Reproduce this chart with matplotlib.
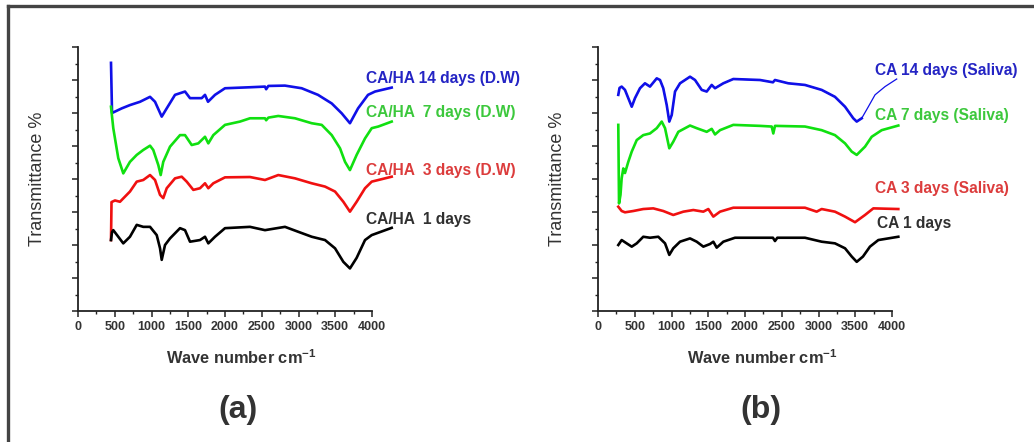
import numpy as np
import matplotlib
matplotlib.use("Agg")
import matplotlib.pyplot as plt
from matplotlib.lines import Line2D
from matplotlib.ticker import MultipleLocator

plt.rcParams['font.family'] = ['Liberation Sans', 'DejaVu Sans']
plt.rcParams['mathtext.fontset'] = 'custom'
plt.rcParams['mathtext.rm'] = 'Liberation Sans'
plt.rcParams['mathtext.bf'] = 'Liberation Sans:bold'

# ---------------- Panel (a): CA/HA in distilled water ----------------
a14_wn = [449, 463, 595, 707, 844, 980, 1048, 1139, 1207, 1320, 1456, 1524, 1683, 1728, 1769, 1864,
          2000, 2340, 2544, 2560, 2590, 2816, 3043, 3265, 3452, 3588, 3700, 3810, 3946, 4041, 4268]
a14_t = [7.52, 6.00, 6.14, 6.24, 6.34, 6.49, 6.34, 5.89, 6.14, 6.55, 6.65, 6.45, 6.45, 6.55, 6.34, 6.55,
         6.75, 6.78, 6.80, 6.72, 6.82, 6.83, 6.75, 6.55, 6.29, 5.99, 5.69, 6.14, 6.55, 6.65, 6.77]

a7_wn = [449, 480, 548, 616, 707, 799, 888, 980, 1024, 1093, 1125, 1160, 1252, 1388, 1456, 1547, 1637,
         1728, 1773, 1841, 2000, 2204, 2340, 2544, 2560, 2590, 2725, 2952, 3180, 3316, 3452, 3565, 3633,
         3700, 3791, 3905, 3996, 4086, 4268]
a7_t = [6.19, 5.54, 4.63, 4.17, 4.52, 4.73, 4.88, 5.01, 4.88, 4.42, 4.12, 4.52, 4.98, 5.33, 5.33, 5.03, 5.08,
        5.28, 5.08, 5.33, 5.64, 5.74, 5.84, 5.84, 5.78, 5.86, 5.91, 5.84, 5.69, 5.64, 5.33, 4.93, 4.52,
        4.27, 4.73, 5.23, 5.54, 5.59, 5.74]

a3_wn = [449, 456, 503, 571, 707, 799, 888, 980, 1048, 1116, 1160, 1207, 1320, 1411, 1479, 1569, 1660,
         1728, 1773, 1841, 2000, 2340, 2544, 2725, 2952, 3180, 3361, 3497, 3610, 3700, 3791, 3905, 3996,
         4268]
a3_t = [2.15, 3.30, 3.35, 3.31, 3.62, 3.92, 3.97, 4.12, 3.97, 3.52, 3.42, 3.72, 4.02, 4.07, 3.92, 3.67, 3.72,
        3.87, 3.72, 3.87, 4.05, 4.06, 3.97, 4.12, 4.02, 3.87, 3.77, 3.62, 3.31, 3.01, 3.31, 3.72, 3.92,
        4.07]

a1_wn = [449, 463, 480, 548, 616, 707, 799, 888, 980, 1071, 1116, 1139, 1184, 1252, 1388, 1456, 1524,
         1660, 1728, 1773, 1864, 2000, 2340, 2544, 2816, 2997, 3180, 3361, 3497, 3610, 3700, 3791, 3905,
         3996, 4268]
a1_t = [2.15, 2.39, 2.45, 2.25, 2.05, 2.25, 2.61, 2.55, 2.55, 2.30, 1.90, 1.55, 2.00, 2.20, 2.51, 2.45, 2.10,
        2.15, 2.25, 2.05, 2.25, 2.51, 2.55, 2.45, 2.55, 2.40, 2.25, 2.15, 1.90, 1.49, 1.29, 1.61, 2.15,
        2.30, 2.52]

a_labels = ["CA/HA 14 days (D.W)", "CA/HA  7 days (D.W)", "CA/HA  3 days (D.W)", "CA/HA  1 days"]
a_label_y = [7.06, 6.00, 4.27, 2.76]
a_label_x = 3918

# ---------------- Panel (b): CA in saliva ----------------
b14_wn = [276, 293, 322, 367, 412, 459, 503, 571, 639, 707, 799, 844, 888, 935, 970, 1003, 1048, 1116,
          1252, 1320, 1411, 1479, 1547, 1592, 1705, 1841, 2204, 2380, 2408, 2589, 2816, 3043, 3224, 3361,
          3473, 3520, 3588, 3678, 3769, 3905, 4064]
b14_t = [6.55, 6.76, 6.80, 6.70, 6.45, 6.19, 6.45, 6.75, 6.90, 6.80, 7.05, 7.00, 6.75, 6.24, 5.74, 5.94, 6.65, 6.90,
         7.10, 7.00, 6.70, 6.65, 6.85, 6.75, 6.90, 7.03, 7.00, 6.93, 7.00, 6.90, 6.85, 6.70, 6.49, 6.19,
         5.84, 5.74, 5.84, 6.19, 6.55, 6.80, 7.03]

b7_wn = [276, 286, 306, 322, 344, 367, 412, 459, 527, 616, 707, 799, 867, 912, 970, 1024, 1093, 1252,
         1343, 1479, 1547, 1592, 1660, 1841, 2204, 2363, 2385, 2408, 2816, 3043, 3224, 3361, 3452, 3520,
         3633, 3724, 3860, 4086]
b7_t = [5.64, 3.26, 3.52, 4.02, 4.32, 4.18, 4.52, 4.83, 5.18, 5.33, 5.38, 5.54, 5.74, 5.54, 4.93, 5.13, 5.43, 5.62,
        5.54, 5.43, 5.52, 5.35, 5.48, 5.64, 5.61, 5.59, 5.38, 5.61, 5.59, 5.48, 5.33, 5.08, 4.83, 4.73,
        4.98, 5.28, 5.48, 5.62]

b3_wn = [276, 322, 367, 480, 616, 752, 888, 1024, 1161, 1297, 1433, 1501, 1569, 1660, 1841, 2816, 2975,
         3043, 3224, 3361, 3497, 3633, 3746, 4086]
b3_t = [3.16, 3.03, 2.99, 3.03, 3.09, 3.11, 3.03, 2.91, 3.01, 3.06, 3.01, 3.09, 2.86, 3.01, 3.13, 3.13, 3.01,
        3.09, 3.01, 2.86, 2.69, 2.91, 3.11, 3.09]

b1_wn = [276, 322, 390, 459, 527, 616, 707, 820, 912, 970, 1024, 1116, 1252, 1343, 1433, 1524, 1569,
         1615, 1705, 1864, 2380, 2408, 2440, 2816, 3043, 3224, 3361, 3452, 3520, 3605, 3700, 3814, 4086]
b1_t = [2.00, 2.15, 2.05, 1.95, 2.05, 2.25, 2.22, 2.25, 2.05, 1.70, 1.90, 2.10, 2.20, 2.10, 1.95, 2.03, 2.10,
        1.92, 2.10, 2.22, 2.22, 2.12, 2.22, 2.22, 2.10, 2.05, 1.90, 1.65, 1.49, 1.65, 1.95, 2.15, 2.25]

b_labels = ["CA 14 days (Saliva)", "CA 7 days (Saliva)", "CA 3 days (Saliva)", "CA 1 days"]
b_label_y = [7.30, 5.91, 3.70, 2.64]
b_label_x = [3769, 3769, 3769, 3796]

line_colors = ["#1010e8", "#10e010", "#f01010", "#000000"]
text_colors = ["#2424c4", "#3cc83c", "#dc3c3c", "#303030"]

x_ticks = [0, 500, 1000, 1500, 2000, 2500, 3000, 3500, 4000]

W, H = 1034, 442
fig = plt.figure(figsize=(W / 100, H / 100), dpi=100)
fig.patch.set_facecolor("white")

def px_axes(x0, x1, ytop, ybot):
    return fig.add_axes([x0 / W, 1 - ybot / H, (x1 - x0) / W, (ybot - ytop) / H])

ax_a = px_axes(78, 372, 47, 311)
ax_b = px_axes(598, 892, 47, 311)

def style(ax, xlab_x):
    ax.set_xlim(0, 4000)
    ax.set_ylim(0, 8)
    for s in ("top", "right"):
        ax.spines[s].set_visible(False)
    for s in ("left", "bottom"):
        ax.spines[s].set_linewidth(1.3)
        ax.spines[s].set_color("#222222")
    ax.set_xticks(x_ticks)
    ax.set_xticklabels([str(v) for v in x_ticks], fontsize=9, fontweight="bold", color="#333333")
    ax.xaxis.set_minor_locator(MultipleLocator(250))
    ax.yaxis.set_major_locator(MultipleLocator(1))
    ax.yaxis.set_minor_locator(MultipleLocator(0.5))
    ax.set_yticklabels([])
    ax.tick_params(which="major", direction="out", length=4, width=1.1, color="#222222", pad=3)
    ax.tick_params(which="minor", direction="out", length=2.5, width=1.0, color="#222222")
    ax.set_ylabel("Transmittance %", fontsize=13, color="#333333", labelpad=16)
    ax.set_xlabel(r"Wave number cm$^{\mathbf{-1}}$", fontsize=11.8, fontweight="bold",
                  color="#333333")
    ax.xaxis.set_label_coords(xlab_x, -0.140)

style(ax_a, 0.555)
style(ax_b, 0.558)

lw = 1.9
for wn, t, c in zip([a14_wn, a7_wn, a3_wn, a1_wn], [a14_t, a7_t, a3_t, a1_t], line_colors):
    ax_a.plot(wn, t, color=c, lw=lw, clip_on=False, solid_joinstyle="round")
for txt, y, c in zip(a_labels, a_label_y, text_colors):
    ax_a.text(a_label_x, y, txt, color=c, fontsize=11.2, fontweight="bold", va="center", ha="left",
              clip_on=False)

# blue saliva curve: thin tail after the main dip
b14_wn_arr = np.array(b14_wn)
b14_t_arr = np.array(b14_t)
ax_b.plot(b14_wn_arr, b14_t_arr, color=line_colors[0], lw=0.9, clip_on=False)
m = b14_wn_arr <= 3605
ax_b.plot(b14_wn_arr[m], b14_t_arr[m], color=line_colors[0], lw=lw, clip_on=False, solid_joinstyle="round")
for wn, t, c in zip([b7_wn, b3_wn, b1_wn], [b7_t, b3_t, b1_t], line_colors[1:]):
    ax_b.plot(wn, t, color=c, lw=lw, clip_on=False, solid_joinstyle="round")
for txt, x, y, c in zip(b_labels, b_label_x, b_label_y, text_colors):
    ax_b.text(x, y, txt, color=c, fontsize=11.2, fontweight="bold", va="center", ha="left",
              clip_on=False)

fig.text(238 / W, 1 - 410 / H, "(a)", fontsize=23, fontweight="bold", color="#333333",
         ha="center", va="center")
fig.text(761 / W, 1 - 410 / H, "(b)", fontsize=23, fontweight="bold", color="#333333",
         ha="center", va="center")

# outer frame
fig.add_artist(Line2D([8 / W, 1.0], [1 - 5.5 / H, 1 - 5.5 / H], transform=fig.transFigure,
                      color="#444444", lw=2.4))
fig.add_artist(Line2D([8 / W, 8 / W], [0, 1 - 5.5 / H], transform=fig.transFigure,
                      color="#444444", lw=2.4))

fig.savefig("out.png", dpi=100, facecolor="white")
